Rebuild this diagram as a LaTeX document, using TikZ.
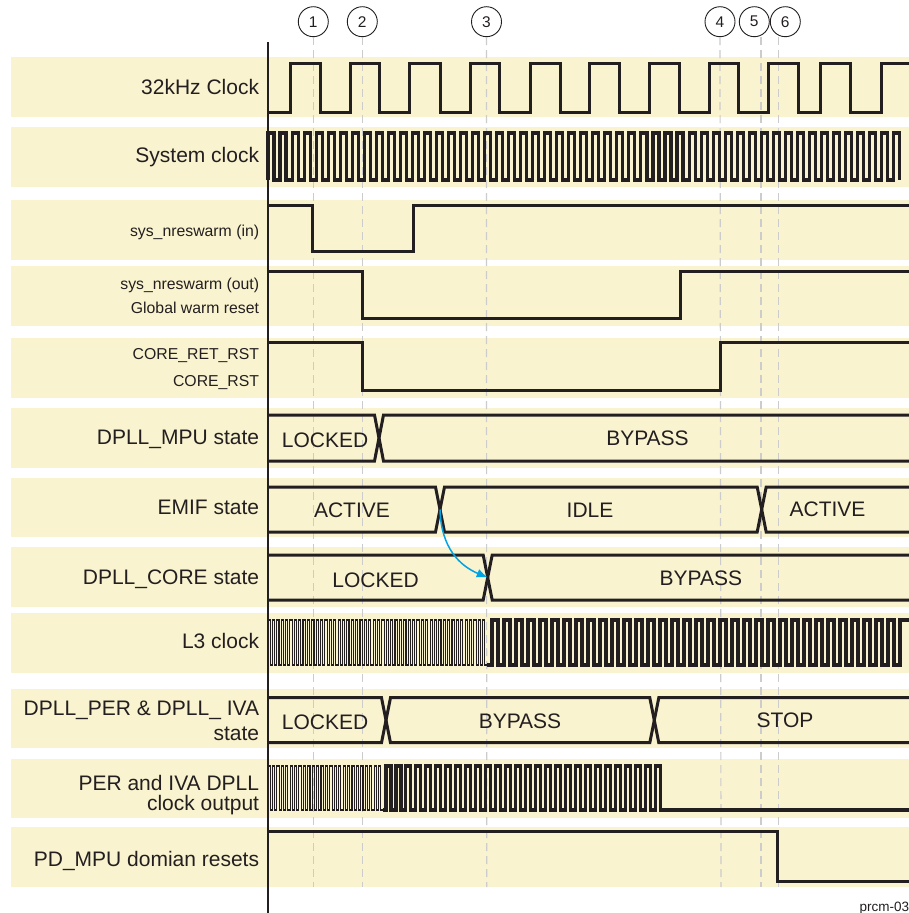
\documentclass[tikz,border=0pt]{standalone}
\usepackage{fontspec}
\setmainfont{Liberation Sans}
\usetikzlibrary{arrows.meta}
\definecolor{bandc}{RGB}{249,243,207}
\definecolor{ink}{RGB}{35,31,32}
\definecolor{dashc}{RGB}{204,204,204}
\definecolor{arrowc}{RGB}{0,163,228}
\tikzset{
  sig/.style={draw=ink, line width=3pt, line join=miter},
  clk/.style={draw=ink, line width=3.1pt},
  fastclk/.style={draw=ink, line width=1.1pt},
  guide/.style={draw=dashc, line width=1.2pt, dash pattern=on 8pt off 5pt},
  axisline/.style={draw=ink, line width=1.5pt},
  lab/.style={anchor=base east, inner sep=0pt, text=ink, font=\fontsize{21}{25}\selectfont},
  slab/.style={anchor=base east, inner sep=0pt, text=ink, font=\fontsize{15.8}{19}\selectfont},
  stxt/.style={anchor=base, inner sep=0pt, text=ink, font=\fontsize{21}{25}\selectfont},
  marker/.style={circle, draw=ink, line width=0.9pt, minimum size=30pt, inner sep=0pt, text=ink, font=\fontsize{15.5}{18}\selectfont},
  arr/.style={draw=arrowc, line width=1.5pt, -{Latex[length=11pt,width=9pt]}},
}
\begin{document}
\begin{tikzpicture}[x=1pt,y=-1pt]
\fill[white] (0,0) rectangle (909,913);
\useasboundingbox (0,0) rectangle (909,913);
% bands
\foreach \t/\b in {57/117,127/187,200/260,266/326,338/398,408/468,478/537,547/607,613/673,689/748,759/818,827/887}
  \fill[bandc] (11,\t) rectangle (909,\b);
% markers and guides
\node[marker] (m1) at (313.3,21.7) {1};
\node[marker] (m2) at (362.3,21.7) {2};
\node[marker] (m3) at (486.5,21.7) {3};
\node[marker] (m4) at (720,21.7) {4};
\node[marker] (m5) at (754.3,21.7) {5};
\node[marker] (m6) at (785.3,21.7) {6};
\coordinate (g1b) at (313.3,887);
\coordinate (g2b) at (362.3,887);
\coordinate (g3b) at (486.7,887);
\coordinate (g4b) at (721,887);
\coordinate (g5t) at (761,37);
\coordinate (g5b) at (761,887);
\coordinate (g6t) at (778.3,37);
\coordinate (g6b) at (778.3,887);
\draw[guide] (m1.south) -- (g1b);
\draw[guide] (m2.south) -- (g2b);
\draw[guide] (m3.south) -- (g3b);
\draw[guide] (m4.south) -- (g4b);
\draw[guide] (g5t) -- (g5b);
\draw[guide] (g6t) -- (g6b);
% axis
\coordinate (axt) at (268,42);
\coordinate (axb) at (268,913);
\draw[axisline] (axt) -- (axb);
% 32kHz clock
\draw[sig] (268,112) \foreach \r/\f in {290.7/320,350/379.3,409.3/440,470/499.3,530/560,589/619.3,649.7/679,709.3/738.3,768.3/798.3,820/850}
  { -- (\r,112) -- (\r,63) -- (\f,63) -- (\f,112) } -- (881.7,112) -- (881.7,63) -- (909,63);
% system clock
\draw[clk] (268,180) \foreach \i in {1,...,52} { -- ++(0,-47) -- ++(6.015,0) -- ++(0,47) -- ++(6.015,0) } -- ++(0,-47) -- ++(6,0) -- ++(0,47);
% sys_nreswarm in
\draw[sig] (268,205) -- (312.7,205) -- (312.7,251.7) -- (413.3,251.7) -- (413.3,205) -- (909,205);
% sys_nreswarm out
\draw[sig] (268,271) -- (362.3,271) -- (362.3,318.7) -- (680.7,318.7) -- (680.7,271) -- (909,271);
% core resets
\draw[sig] (268,342.7) -- (362.3,342.7) -- (362.3,390) -- (720.7,390) -- (720.7,342.7) -- (909,342.7);
% DPLL_MPU
\draw[sig] (268,415) -- (374.5,415) -- (379,438) -- (374.5,461) -- (268,461);
\draw[sig] (909,415) -- (383.5,415) -- (379,438) -- (383.5,461) -- (909,461);
% EMIF
\coordinate (emifX) at (440,509.5);
\draw[sig] (268,487) -- (435.5,487) -- (emifX) -- (435.5,532) -- (268,532);
\draw[sig] (444.5,487) -- (757.2,487) -- (761.7,509.5) -- (757.2,532) -- (444.5,532) -- (emifX) -- cycle;
\draw[sig] (909,487) -- (766.2,487) -- (761.7,509.5) -- (766.2,532) -- (909,532);
% DPLL_CORE
\coordinate (coreX) at (487.7,577.5);
\draw[sig] (268,555) -- (483.2,555) -- (coreX) -- (483.2,600) -- (268,600);
\draw[sig] (909,555) -- (492.2,555) -- (coreX) -- (492.2,600) -- (909,600);
% L3 clock
\draw[fastclk] (268,665) \foreach \i in {1,...,50} { -- ++(0,-45) -- ++(2.19,0) -- ++(0,45) -- ++(2.19,0) };
\draw[clk] (487,665) -- (492,665) \foreach \i in {1,...,34} { -- ++(0,-45) -- ++(6,0) -- ++(0,45) -- ++(6,0) } -- ++(0,-45) -- (909,620);
% DPLL_PER & IVA
\draw[sig] (268,697.7) -- (381.5,697.7) -- (386,720.2) -- (381.5,742.7) -- (268,742.7);
\draw[sig] (390.5,697.7) -- (649.8,697.7) -- (654.3,720.2) -- (649.8,742.7) -- (390.5,742.7) -- (386,720.2) -- cycle;
\draw[sig] (909,697.7) -- (658.8,697.7) -- (654.3,720.2) -- (658.8,742.7) -- (909,742.7);
% PER and IVA clock output
\draw[fastclk] (268,810) \foreach \i in {1,...,26} { -- ++(0,-44) -- ++(2.21,0) -- ++(0,44) -- ++(2.21,0) };
\draw[clk] (382.9,810) -- (386,810) \foreach \i in {1,...,27} { -- ++(0,-44) -- ++(4.985,0) -- ++(0,44) -- ++(4.985,0) } -- ++(0,-44) -- ++(5,0) -- ++(0,44) -- (909,810);
% PD_MPU resets
\draw[sig] (268,831.7) -- (777.7,831.7) -- (777.7,881) -- (909,881);
% arrow
\draw[arr] (emifX) .. controls (441,548) and (460,566) .. (coreX);
% labels
\node[lab] (l1) at (259.3,94.5) {32kHz Clock};
\node[lab] (l2) at (259.3,162.5) {System clock};
\node[slab] (l3) at (259.3,236.5) {sys\_nreswarm (in)};
\node[slab] (l4a) at (259.3,289) {sys\_nreswarm (out)};
\node[slab] (l4b) at (259.3,313.3) {Global warm reset};
\node[slab] (l5a) at (259.3,359.3) {CORE\_RET\_RST};
\node[slab] (l5b) at (259.3,386) {CORE\_RST};
\node[lab] (l6) at (259.3,444.5) {DPLL\_MPU state};
\node[lab] (l7) at (259.3,514.5) {EMIF state};
\node[lab] (l8) at (259.3,584.5) {DPLL\_CORE state};
\node[lab] (l9) at (259.3,648.5) {L3 clock};
\node[lab] (l10a) at (259.3,715) {DPLL\_PER \& DPLL\_ IVA};
\node[lab] (l10b) at (259.3,740.7) {state};
\node[lab] (l11a) at (259.3,790) {PER and IVA DPLL};
\node[lab] (l11b) at (259.3,810.5) {clock output};
\node[lab] (l12) at (259.3,866.7) {PD\_MPU domian resets};
% state texts
\node[stxt] (s6a) at (325,447) {LOCKED};
\node[stxt] (s6b) at (647.5,445.5) {BYPASS};
\node[stxt] (s7a) at (352,517.5) {ACTIVE};
\node[stxt] (s7b) at (590,517) {IDLE};
\node[stxt] (s7c) at (827.5,516.7) {ACTIVE};
\node[stxt] (s8a) at (375.5,587) {LOCKED};
\node[stxt] (s8b) at (700.8,585.7) {BYPASS};
\node[stxt] (s10a) at (325,729) {LOCKED};
\node[stxt] (s10b) at (520,728.3) {BYPASS};
\node[stxt] (s10c) at (785,727.7) {STOP};
\node[anchor=base west, inner sep=0pt, text=ink, font=\fontsize{13.5}{16}\selectfont] (fig) at (859.3,911) {prcm-032};
\end{tikzpicture}
\end{document}
